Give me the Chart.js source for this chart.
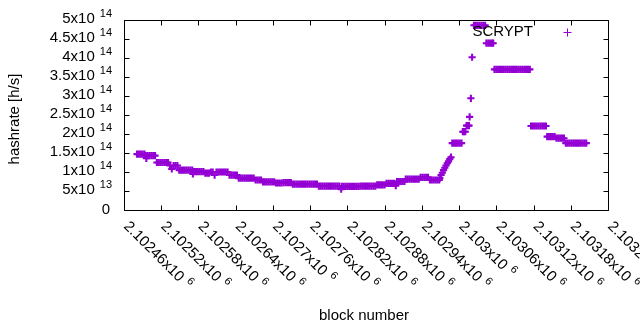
<!DOCTYPE html>
<html>
<head>
<meta charset="utf-8">
<script src="https://cdn.jsdelivr.net/npm/chart.js@4"></script>
<style>
html,body{margin:0;padding:0;background:#fff;}
canvas{display:block;}
</style>
</head>
<body>
<canvas id="c" width="640" height="330"></canvas>
<script>
// ---- data ----
const seriesName = "SCRYPT";
const blocks = [
  2102481,2102484,2102487,2102490,2102493,
  2102495,2102496,2102498,2102501,2102504,2102507,2102510,
  2102513,2102516,2102519,2102522,2102525,2102528,2102531,
  2102534,2102537,2102540,2102543,2102546,
  2102549,2102552,2102555,2102558,2102561,2102564,2102567,2102570,
  2102571,2102573,2102576,2102579,2102582,2102585,2102588,
  2102591,2102594,2102597,
  2102600,2102603,2102606,2102609,2102612,2102615,2102618,2102621,2102624,2102627,
  2102630,2102633,2102636,2102639,2102642,
  2102645,2102648,2102651,2102654,2102657,2102660,2102663,2102666,2102669,
  2102672,2102675,2102678,2102681,
  2102684,2102687,2102690,2102693,2102696,2102699,2102702,
  2102705,2102708,2102711,2102714,
  2102717,2102720,2102723,2102726,2102729,
  2102732,2102735,2102738,2102741,2102744,2102747,2102750,2102753,2102756,2102759,2102762,2102765,2102768,2102771,
  2102774,2102777,2102780,2102783,2102786,2102789,2102792,2102795,2102798,2102801,2102804,2102807,
  2102810,2102811,2102814,2102817,2102820,2102823,2102826,2102829,2102832,2102835,2102838,
  2102841,2102844,2102847,2102850,2102853,2102856,2102859,2102862,2102865,
  2102868,2102871,2102874,2102877,2102880,
  2102883,2102886,2102889,2102892,2102895,2102898,
  2102900,2102903,2102906,2102909,2102912,
  2102914,2102917,2102920,2102923,2102926,2102929,2102932,2102935,
  2102938,2102941,2102944,2102947,2102950,
  2102953,2102956,2102959,2102962,2102965,2102968,
  2102969,2102971,2102973,2102975,2102977,2102979,2102981,2102983,2102985,2102987,
  2102989,2102992,2102995,2102998,2103001,2103004,
  2103006,2103008,2103010,
  2103012,2103014,2103016,
  2103017,2103019,2103021,
  2103024,2103027,2103030,2103033,2103036,2103039,2103042,
  2103044,2103047,2103050,2103053,2103055,
  2103057,2103060,2103063,2103066,2103069,2103072,2103075,2103078,2103081,2103084,2103087,2103090,2103093,2103096,2103099,2103102,2103105,2103108,2103111,2103114,
  2103116,2103119,2103122,2103125,2103128,2103131,2103134,2103137,2103140,
  2103142,2103145,2103148,2103151,2103154,
  2103157,2103160,2103163,2103166,2103169,
  2103172,2103175,2103178,2103181,2103184,2103187,2103190,2103193,2103196,2103199,2103202,2103205
];
// hashrate in units of 10^12 h/s
const hashrateT = [
  147,147,147,147,147,
  143,136,143,143,143,143,143,
  125,125,125,125,125,125,125,
  117,108,117,117,117,
  105,105,105,105,105,105,105,105,
  95,101,101,101,101,101,101,
  97,97,97,
  100,100,92,100,100,100,100,100,100,100,
  92,92,92,92,92,
  84,84,84,84,84,84,84,84,84,
  79,79,79,79,
  74,74,74,74,74,74,74,
  71,71,71,71,
  72,72,72,72,72,
  68,68,68,68,68,68,68,68,68,68,68,68,68,68,
  63,63,63,63,63,63,63,63,63,63,63,63,
  55,62,62,62,62,62,62,62,62,62,62,
  63,63,63,63,63,63,63,63,63,
  66,66,66,66,66,
  70,70,70,70,70,64,
  75,75,75,75,75,
  81,81,81,81,81,81,81,81,
  86,86,86,86,86,
  79,79,79,79,79,79,
  84,92,98,105,111,117,123,128,134,139,
  176,176,176,176,176,176,
  206,206,206,
  222,222,222,
  245,294,402,
  486,486,486,486,486,486,486,
  439,439,439,439,439,
  370,370,370,370,370,370,370,370,370,370,370,370,370,370,370,370,370,370,370,370,
  221,221,221,221,221,221,221,221,221,
  193,193,193,193,193,
  189,189,189,189,189,
  176,176,176,176,176,176,176,176,176,176,176,176
];
const xTicks = [2102460,2102520,2102580,2102640,2102700,2102760,2102820,2102880,2102940,2103000,2103060,2103120,2103180,2103240];
const xTickLabels = ["2.10246","2.10252","2.10258","2.10264","2.1027","2.10276","2.10282","2.10288","2.10294","2.103","2.10306","2.10312","2.10318","2.10324"];
const xTickExp = "6";
const yTicks = [0,5e13,1e14,1.5e14,2e14,2.5e14,3e14,3.5e14,4e14,4.5e14,5e14];
const yTickLabels = ["0","5","1","1.5","2","2.5","3","3.5","4","4.5","5"];
const yTickExp = ["","13","14","14","14","14","14","14","14","14","14"];
const xTitle = "block number";
const yTitle = "hashrate [h/s]";

const COLOR = "#9400d3";
const FONT = '"Liberation Sans", Arial, sans-serif';
const mainFont = "15px " + FONT;
const supFont = "11px " + FONT;

const points = blocks.map((b, i) => ({x: b, y: hashrateT[i] * 1e12}));

const gnu = {
  id: "gnu",
  beforeDatasetsDraw(chart) {
    const {ctx, chartArea: a, scales: {x, y}} = chart;
    ctx.save();
    ctx.strokeStyle = "#000";
    ctx.lineWidth = 1;
    const L = Math.round(a.left) + 0.5, R = Math.round(a.right) + 0.5;
    const T = Math.round(a.top) + 0.5, B = Math.round(a.bottom) + 0.5;
    ctx.beginPath();
    ctx.rect(L, T, R - L, B - T);
    xTicks.forEach(v => {
      const px = Math.round(x.getPixelForValue(v)) + 0.5;
      ctx.moveTo(px, B); ctx.lineTo(px, B - 5);
      ctx.moveTo(px, T); ctx.lineTo(px, T + 5);
    });
    yTicks.forEach(v => {
      const py = Math.round(y.getPixelForValue(v)) + 0.5;
      ctx.moveTo(L, py); ctx.lineTo(L + 5, py);
      ctx.moveTo(R, py); ctx.lineTo(R - 5, py);
    });
    ctx.stroke();

    ctx.fillStyle = "#000";
    // y tick labels
    yTicks.forEach((v, i) => {
      const py = y.getPixelForValue(v);
      ctx.textBaseline = "middle";
      ctx.textAlign = "right";
      if (yTickExp[i]) {
        ctx.font = supFont;
        const sw = ctx.measureText(yTickExp[i]).width;
        ctx.fillText(yTickExp[i], 112, py - 6);
        ctx.font = mainFont;
        ctx.fillText(yTickLabels[i] + "x10", 112 - sw - 5, py - 1);
      } else {
        ctx.font = mainFont;
        ctx.fillText(yTickLabels[i], 110, py);
      }
    });
    // x tick labels, rotated -45 degrees (down-right)
    xTicks.forEach((v, i) => {
      const px = x.getPixelForValue(v);
      ctx.save();
      ctx.translate(px + 2, a.bottom + 14);
      ctx.rotate(Math.PI / 4);
      ctx.textAlign = "left";
      ctx.textBaseline = "middle";
      ctx.font = mainFont;
      const txt = xTickLabels[i] + "x10";
      ctx.fillText(txt, 0, 0);
      const w = ctx.measureText(txt).width;
      ctx.font = supFont;
      ctx.fillText(xTickExp, w + 5, -5);
      ctx.restore();
    });
    // axis titles
    ctx.font = mainFont;
    ctx.textAlign = "center";
    ctx.textBaseline = "middle";
    ctx.fillText(xTitle, (a.left + a.right) / 2 - 2, 316);
    ctx.save();
    ctx.translate(15, 119);
    ctx.rotate(-Math.PI / 2);
    ctx.fillText(yTitle, 0, 0);
    ctx.restore();
    ctx.restore();
  },
  afterDatasetsDraw(chart) {
    const {ctx} = chart;
    ctx.save();
    ctx.font = mainFont;
    ctx.fillStyle = "#000";
    ctx.textAlign = "right";
    ctx.textBaseline = "middle";
    ctx.fillText(seriesName, 533, 32);
    ctx.strokeStyle = COLOR;
    ctx.lineWidth = 1;
    ctx.beginPath();
    ctx.moveTo(563.5, 32.5); ctx.lineTo(571.5, 32.5);
    ctx.moveTo(567.5, 28.5); ctx.lineTo(567.5, 36.5);
    ctx.stroke();
    ctx.restore();
  }
};

new Chart(document.getElementById("c"), {
  type: "scatter",
  data: {
    datasets: [{
      label: seriesName,
      data: points,
      showLine: false,
      pointStyle: "cross",
      pointRadius: 3.6,
      pointHoverRadius: 3.6,
      pointBorderWidth: 2.1,
      borderColor: COLOR,
      backgroundColor: COLOR
    }]
  },
  options: {
    responsive: false,
    animation: false,
    events: [],
    layout: {autoPadding: false, padding: {left: 0, top: 20, right: 32, bottom: 0}},
    plugins: {legend: {display: false}, tooltip: {enabled: false}},
    scales: {
      x: {
        type: "linear", min: 2102460, max: 2103240,
        ticks: {display: false, stepSize: 60},
        grid: {display: false}, border: {display: false},
        afterFit(s) { s.height = 120; }
      },
      y: {
        type: "linear", min: 0, max: 5e14,
        ticks: {display: false, stepSize: 5e13},
        grid: {display: false}, border: {display: false},
        afterFit(s) { s.width = 124; }
      }
    }
  },
  plugins: [gnu]
});
</script>
</body>
</html>
